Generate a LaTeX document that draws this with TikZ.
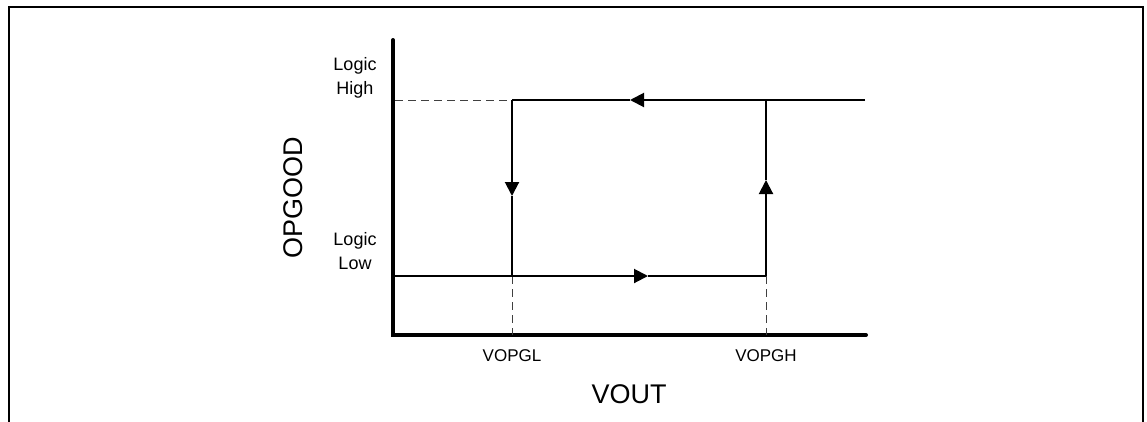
\documentclass[tikz,border=0pt]{standalone}
\usepackage{fontspec}
\setmainfont{Liberation Sans}
\usetikzlibrary{arrows.meta}

\tikzset{
  axisline/.style={line width=4pt, line cap=round},
  loopline/.style={line width=2pt},
  guideline/.style={line width=1pt, black!75, dash pattern=on 8pt off 5pt},
  tipline/.style={loopline, -{Triangle[length=14pt,width=14pt]}},
  levellabel/.style={anchor=base, align=center, inner sep=0pt, font=\fontsize{18}{24.5}\selectfont},
  ticklabel/.style={anchor=base, inner sep=0pt, font=\fontsize{17}{20}\selectfont},
  axislabel/.style={inner sep=0pt, font=\fontsize{27}{30}\selectfont}
}

\begin{document}
\begin{tikzpicture}[x=1pt,y=-1pt]
\useasboundingbox (0,0) rectangle (1147,421);

% Frame, open at the bottom
\draw[line width=2.5pt] (9,425) -- (9,7) -- (1143,7) -- (1143,425);

% Key points of the loop
\coordinate (origin) at (393,335);
\coordinate (yhigh) at (395,100);
\coordinate (ylow) at (395,276);
\coordinate (hiL) at (512,100);
\coordinate (hiR) at (766,100);
\coordinate (hiEnd) at (865,100);
\coordinate (loL) at (512,276);
\coordinate (loR) at (766,276);
\coordinate (xL) at (512,335);
\coordinate (xH) at (766,335);

% Axes
\draw[axisline] (393,40) -- (origin) -- (866,335);

% Guide lines
\draw[guideline] (yhigh) -- (hiL);
\draw[guideline] (loL) -- (xL);
\draw[guideline] (loR) -- (xH);

% Hysteresis loop
\draw[tipline] (hiEnd) -- (630,100);
\draw[loopline] (630,100) -- (hiL);
\draw[tipline] (hiL) -- (512,196);
\draw[loopline] (512,196) -- (loL);
\draw[tipline] (ylow) -- (648,276);
\draw[loopline] (648,276) -- (loR);
\draw[tipline] (loR) -- (766,180);
\draw[loopline] (766,180) -- (hiR);

% Labels
\node[levellabel] (lblHigh) at (355,94.5) {Logic\\High};
\node[levellabel] (lblLow) at (355,269.5) {Logic\\Low};
\node[axislabel, rotate=90] (lblY) at (293,198) {OPGOOD};
\node[ticklabel] (lblVOPGL) at (512,361) {VOPGL};
\node[ticklabel] (lblVOPGH) at (766,361) {VOPGH};
\node[axislabel, anchor=base] (lblX) at (629,403) {VOUT};

\end{tikzpicture}
\end{document}
